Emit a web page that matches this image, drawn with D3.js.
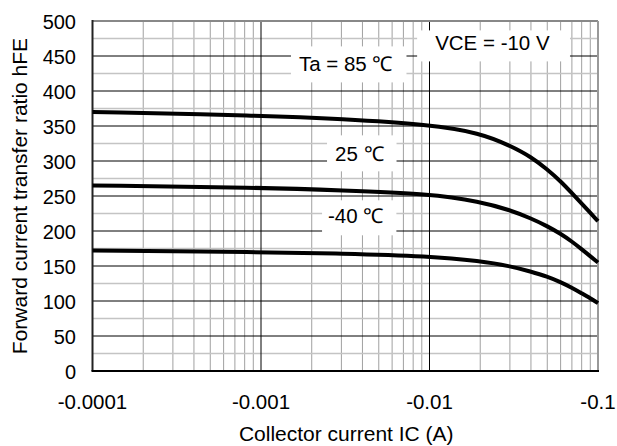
<!DOCTYPE html>
<html>
<head>
<meta charset="utf-8">
<script src="https://cdn.jsdelivr.net/npm/d3@7"></script>
<style>
  body { margin: 0; background: #fff; }
  text { font-family: "Liberation Sans", Arial, sans-serif; fill: #000; }
</style>
</head>
<body>
<div id="chart"></div>
<script>
// collector current (absolute value, A) and hFE per ambient temperature
const icValues = [1e-4, 1e-3, 3e-3, 1e-2, 2e-2, 3e-2, 4e-2, 5e-2, 6e-2, 7e-2, 8e-2, 9e-2, 1e-1];
const hfe85 = [370, 365, 360, 352, 340, 322, 306, 288, 271, 254, 239, 226, 214];
const hfe25 = [265, 262, 258, 253, 242, 230, 218, 207, 196, 185, 174, 164, 155];
const hfeM40 = [172, 170, 168, 164, 157, 150, 142, 135, 127, 119, 111, 104, 97];

const xTicks = [1e-4, 1e-3, 1e-2, 1e-1];
const xTickLabels = ["-0.0001", "-0.001", "-0.01", "-0.1"];
const yTicks = [0, 50, 100, 150, 200, 250, 300, 350, 400, 450, 500];

const labelTexts = ["Ta = 85 \u2103", "VCE = -10 V", "25 \u2103", "-40 \u2103"];

const chartWidth = 617, chartHeight = 446;
const plotLeft = 92.5, plotRight = 598, plotTop = 21, plotBottom = 371;

// where each label sits (ic, hFE of baseline start) and its white box padding [l, t, r, b]
var labelLayout = [
    { ic: 1.68e-3, v: 428, pad: [8, 6, 14, 7] },
    { ic: 1.08e-2, v: 458, pad: [18, 1, 20, 7] },
    { ic: 2.75e-3, v: 299.5, pad: [8, 7, 13, 6] },
    { ic: 2.5e-3, v: 211, pad: [6, 4, 13, 8] }
];

var svg = d3.select("#chart").append("svg")
    .attr("width", chartWidth).attr("height", chartHeight);

var x = d3.scaleLog().domain([1e-4, 1e-1]).range([plotLeft, plotRight]);
var y = d3.scaleLinear().domain([0, 500]).range([plotBottom, plotTop]);

// minor grid
var minorX = [];
for (var d = 1e-4; d < 1e-1; d *= 10) {
    for (var k = 2; k <= 9; k++) minorX.push(d * k);
}
svg.selectAll("line.vminor").data(minorX).enter().append("line")
    .attr("x1", d => x(d)).attr("x2", d => x(d))
    .attr("y1", plotTop).attr("y2", plotBottom)
    .attr("stroke", "#a0a0a0").attr("stroke-width", 1);

var minorY = d3.range(25, 500, 50);
svg.selectAll("line.hminor").data(minorY).enter().append("line")
    .attr("x1", plotLeft).attr("x2", plotRight)
    .attr("y1", d => y(d)).attr("y2", d => y(d))
    .attr("stroke", "#c4c4c4").attr("stroke-width", 1.4);

// major grid
svg.selectAll("line.vmajor").data(xTicks.slice(1, 3)).enter().append("line")
    .attr("x1", d => x(d)).attr("x2", d => x(d))
    .attr("y1", plotTop).attr("y2", plotBottom)
    .attr("stroke", "#000").attr("stroke-width", 1);

svg.selectAll("line.hmajor").data(yTicks.slice(1, 10)).enter().append("line")
    .attr("x1", plotLeft).attr("x2", plotRight)
    .attr("y1", d => y(d)).attr("y2", d => y(d))
    .attr("stroke", "#000").attr("stroke-width", 1);

// label boxes + text
labelTexts.forEach(function(s, i) {
    var l = labelLayout[i];
    var t = svg.append("text")
        .attr("x", x(l.ic)).attr("y", y(l.v))
        .style("font-size", "20.5px")
        .text(s);
    var b = t.node().getBBox();
    svg.insert("rect", "text")
        .attr("x", b.x - l.pad[0]).attr("y", b.y - l.pad[1])
        .attr("width", b.width + l.pad[0] + l.pad[2])
        .attr("height", b.height + l.pad[1] + l.pad[3])
        .attr("fill", "#fff");
});

// frame
svg.append("line").attr("x1", plotLeft).attr("x2", plotRight).attr("y1", plotTop).attr("y2", plotTop)
    .attr("stroke", "#888").attr("stroke-width", 2.2);
svg.append("line").attr("x1", plotRight).attr("x2", plotRight).attr("y1", plotTop).attr("y2", plotBottom)
    .attr("stroke", "#999").attr("stroke-width", 2);
svg.append("line").attr("x1", plotLeft).attr("x2", plotLeft).attr("y1", plotTop - 1).attr("y2", plotBottom)
    .attr("stroke", "#222").attr("stroke-width", 2);
svg.append("line").attr("x1", plotLeft - 1).attr("x2", plotRight + 1).attr("y1", plotBottom).attr("y2", plotBottom)
    .attr("stroke", "#000").attr("stroke-width", 2);

// curves (B-spline keeps them smooth like the datasheet plot)
var line = d3.line()
    .x(function(d) { return x(d[0]); })
    .y(function(d) { return y(d[1]); })
    .curve(d3.curveBasis);

[hfe85, hfe25, hfeM40].forEach(function(s) {
    svg.append("path")
        .datum(icValues.map(function(v, i) { return [v, s[i]]; }))
        .attr("d", line)
        .attr("fill", "none")
        .attr("stroke", "#000")
        .attr("stroke-width", 4);
});

// tick labels
svg.selectAll("text.ytick").data(yTicks).enter().append("text")
    .attr("x", 76).attr("y", d => y(d) + 7.5)
    .attr("text-anchor", "end")
    .style("font-size", "20px")
    .text(d => d);

svg.selectAll("text.xtick").data(xTicks).enter().append("text")
    .attr("x", d => x(d)).attr("y", 409)
    .attr("text-anchor", "middle")
    .style("font-size", "20.5px")
    .text((d, i) => xTickLabels[i]);

// axis titles
svg.append("text")
    .attr("x", (plotLeft + plotRight) / 2 + 1).attr("y", 441)
    .attr("text-anchor", "middle")
    .style("font-size", "21px")
    .text("Collector current IC (A)");

svg.append("text")
    .attr("transform", "translate(27," + ((plotTop + plotBottom) / 2) + ") rotate(-90)")
    .attr("text-anchor", "middle")
    .style("font-size", "21px")
    .text("Forward current transfer ratio hFE");
</script>
</body>
</html>
